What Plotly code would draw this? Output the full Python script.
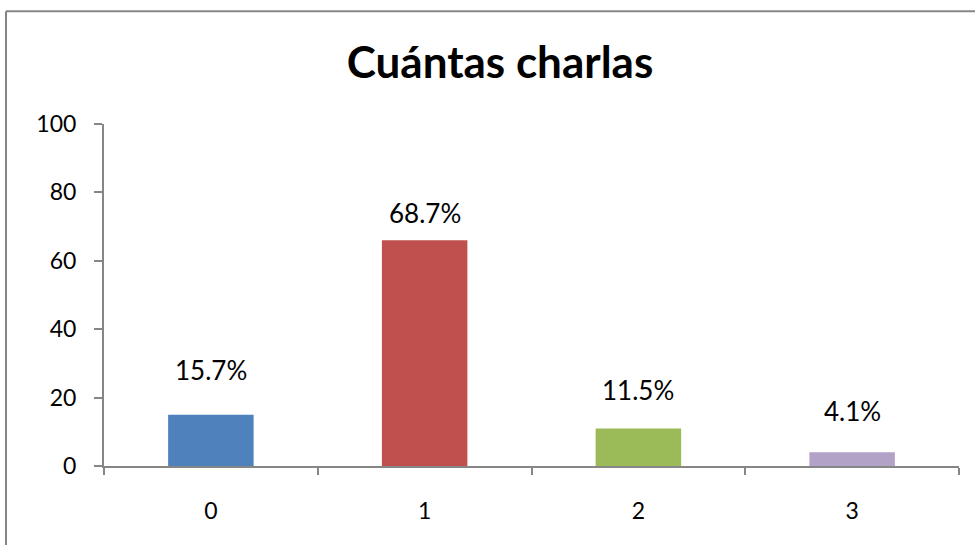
import plotly.graph_objects as go

categories = ["0", "1", "2", "3"]
values = [15, 66, 11, 4]
labels = ["15.7%", "68.7%", "11.5%", "4.1%"]
colors = ["#4F81BD", "#C0504D", "#9BBB59", "#B3A2C7"]
label_shift = [45, 27, 38, 41]  # px above bar top

font_family = "Lato, 'Open Sans', sans-serif"

fig = go.Figure()
fig.add_trace(go.Bar(
    x=categories, y=values, marker=dict(color=colors, line=dict(width=0)),
    width=0.4, hoverinfo="skip",
))

for c, v, t, s in zip(categories, values, labels, label_shift):
    fig.add_annotation(x=c, y=v, text=t, showarrow=False, yshift=s,
                       yanchor="middle", font=dict(size=26, color="#000000", family=font_family))

# chart frame (top and left edges; the rest falls outside the picture)
border = dict(color="#868686", width=2)
fig.add_shape(type="line", xref="paper", yref="paper",
              x0=-0.1146, x1=1.3, y0=1.330, y1=1.330, line=border, layer="below")
fig.add_shape(type="line", xref="paper", yref="paper",
              x0=-0.1146, x1=-0.1146, y0=1.330, y1=-0.5, line=border, layer="below")

fig.update_layout(
    width=975, height=545,
    margin=dict(l=104, r=16, t=124, b=79),
    paper_bgcolor="white", plot_bgcolor="white",
    showlegend=False,
    title=dict(text="<b>Cuántas charlas</b>", x=500 / 975, xanchor="center", y=1 - 63 / 545, yanchor="middle",
               font=dict(size=44, color="#000000", family=font_family)),
    font=dict(family=font_family, color="#000000"),
    bargap=0.6,
)
fig.update_xaxes(
    type="category", showgrid=False, showline=True, linecolor="#868686", linewidth=2,
    ticks="outside", tickson="boundaries", ticklen=7, tickcolor="#868686", tickwidth=2,
    tickfont=dict(size=23, family=font_family), ticklabelstandoff=23,
)
fig.update_yaxes(
    range=[0, 100], tickvals=[0, 20, 40, 60, 80, 100], showgrid=False, zeroline=False,
    showline=True, linecolor="#868686", linewidth=2,
    ticks="outside", ticklen=8, tickcolor="#868686", tickwidth=2,
    tickfont=dict(size=23, family=font_family), ticklabelstandoff=13,
)

fig.write_html(
    "out.html",
    config={"displayModeBar": False},
    post_script="document.body.style.margin='0';document.body.style.overflow='hidden';",
)
